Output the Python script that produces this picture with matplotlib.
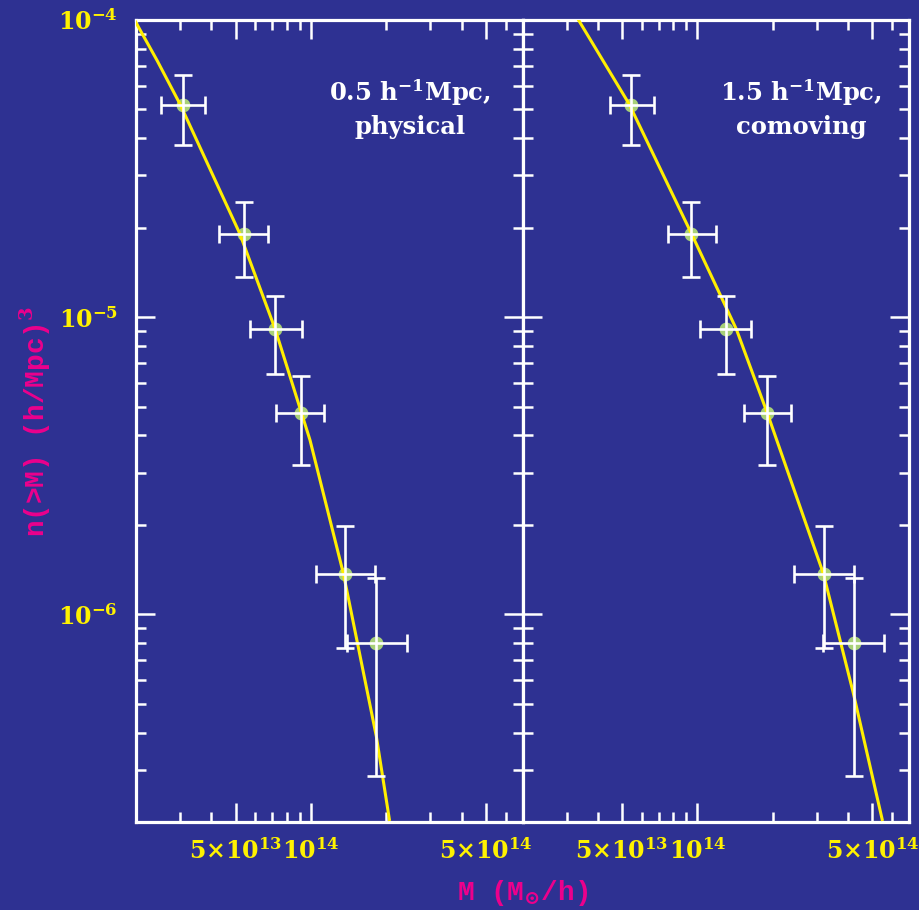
import matplotlib
matplotlib.use("Agg")
import matplotlib.pyplot as plt
from matplotlib.ticker import FixedLocator, FixedFormatter, NullFormatter

# ---------------- data ----------------
n_obs = [5.19e-5, 1.91e-5, 9.13e-6, 4.75e-6, 1.37e-6, 8.02e-7]
n_hi = [6.52e-5, 2.45e-5, 1.178e-5, 6.34e-6, 1.976e-6, 1.322e-6]
n_lo = [3.81e-5, 1.37e-5, 6.46e-6, 3.18e-6, 7.7e-7, 2.85e-7]

mass_phys = [3.07e13, 5.40e13, 7.19e13, 9.12e13, 1.373e14, 1.824e14]
mass_phys_lo = [2.51e13, 4.31e13, 5.69e13, 7.28e13, 1.044e14, 1.391e14]
mass_phys_hi = [3.79e13, 6.74e13, 9.18e13, 1.131e14, 1.807e14, 2.423e14]

mass_com = [5.45e13, 9.46e13, 1.296e14, 1.888e14, 3.21e14, 4.22e14]
mass_com_lo = [4.46e13, 7.60e13, 1.021e14, 1.530e14, 2.436e14, 3.185e14]
mass_com_hi = [6.72e13, 1.181e14, 1.643e14, 2.363e14, 4.205e14, 5.58e14]

fit_phys_m = [1.98e13, 2.43e13, 3.006e13, 5.19e13, 7.19e13, 9.91e13,
              1.348e14, 1.824e14, 2.057e14]
fit_phys_n = [9.95e-5, 7.30e-5, 5.19e-5, 1.915e-5, 9.13e-6, 3.86e-6,
              1.37e-6, 3.89e-7, 2.04e-7]

fit_com_m = [3.36e13, 5.33e13, 9.46e13, 1.430e14, 1.902e14, 3.185e14, 4.19e14,
             5.47e14]
fit_com_n = [9.95e-5, 5.22e-5, 1.911e-5, 9.11e-6, 4.75e-6, 1.37e-6, 5.45e-7,
             2.04e-7]

x_major = [5e13, 1e14, 5e14]
x_major_labels = [r'$5{\times}10^{13}$', r'$10^{14}$', r'$5{\times}10^{14}$']
y_major = [1e-6, 1e-5, 1e-4]
y_major_labels = [r'$10^{-6}$', r'$10^{-5}$', r'$10^{-4}$']
panel_titles = [(r'0.5 h$^{-1}$Mpc,', 'physical'),
                (r'1.5 h$^{-1}$Mpc,', 'comoving')]

# ---------------- style ----------------
BG = '#2e3192'
YEL = '#fff200'
LINE = '#ffee00'
MAG = '#ec008c'
GRN = '#a8d078'

plt.rcParams['mathtext.fontset'] = 'custom'
plt.rcParams['mathtext.rm'] = 'DejaVu Serif:bold'
plt.rcParams['mathtext.it'] = 'DejaVu Serif:bold'
plt.rcParams['mathtext.bf'] = 'DejaVu Serif:bold'

fig = plt.figure(figsize=(9.19, 9.10), dpi=100, facecolor=BG)
W, H = 919, 910
def rect(x0, y0, x1, y1):
    return [x0 / W, 1 - y1 / H, (x1 - x0) / W, (y1 - y0) / H]

ax1 = fig.add_axes(rect(136, 20, 522.5, 822))
ax2 = fig.add_axes(rect(522.5, 20, 909, 822))

panels = [
    (ax1, mass_phys, mass_phys_lo, mass_phys_hi, fit_phys_m, fit_phys_n, 0.709),
    (ax2, mass_com, mass_com_lo, mass_com_hi, fit_com_m, fit_com_n, 0.7206),
]

for i, (ax, m, mlo, mhi, fm, fn, tx) in enumerate(panels):
    ax.set_facecolor(BG)
    ax.set_xscale('log')
    ax.set_yscale('log')
    ax.set_xlim(2e13, 7e14)
    ax.set_ylim(2e-7, 1e-4)

    ax.plot(m, n_obs, 'o', color=GRN, markersize=10, markeredgewidth=0, zorder=2)
    ax.plot(fm, fn, '-', color=LINE, linewidth=2.2, zorder=3,
            solid_joinstyle='round')
    xerr = [[a - b for a, b in zip(m, mlo)], [b - a for a, b in zip(m, mhi)]]
    yerr = [[a - b for a, b in zip(n_obs, n_lo)], [b - a for a, b in zip(n_obs, n_hi)]]
    ax.errorbar(m, n_obs, xerr=xerr, yerr=yerr, fmt='none', ecolor='white',
                elinewidth=1.9, capsize=6.5, capthick=1.9, zorder=4)

    for s in ax.spines.values():
        s.set_color('white')
        s.set_linewidth(2.3)

    ax.xaxis.set_major_locator(FixedLocator(x_major))
    ax.xaxis.set_major_formatter(FixedFormatter(x_major_labels))
    ax.xaxis.set_minor_formatter(NullFormatter())
    ax.yaxis.set_major_locator(FixedLocator(y_major))
    ax.yaxis.set_minor_formatter(NullFormatter())
    if i == 0:
        ax.yaxis.set_major_formatter(FixedFormatter(y_major_labels))
    else:
        ax.yaxis.set_major_formatter(NullFormatter())

    ax.tick_params(which='both', direction='in', top=True, right=True,
                   color='white', width=1.8, labelcolor=YEL, labelsize=17)
    ax.tick_params(which='major', length=13.5)
    ax.tick_params(which='minor', length=7)
    ax.tick_params(axis='x', which='major', pad=12)
    ax.tick_params(axis='y', which='major', pad=13)

    l1, l2 = panel_titles[i]
    ax.text(tx, 0.910, l1, transform=ax.transAxes, ha='center', va='center',
            color='white', fontsize=17.5, fontfamily='DejaVu Serif',
            fontweight='bold')
    ax.text(tx, 0.866, l2, transform=ax.transAxes, ha='center', va='center',
            color='white', fontsize=17.5, fontfamily='DejaVu Serif',
            fontweight='bold')

fig.text(35 / W, 1 - 421 / H, r'n(>M) (h/Mpc)$^3$', rotation=90, ha='center',
         va='center', color=MAG, fontsize=20, fontfamily='Liberation Mono',
         fontweight='bold')
fig.text(522.5 / W, 1 - 893 / H, r'M (M$_{\odot}$/h)', ha='center', va='center',
         color=MAG, fontsize=20, fontfamily='Liberation Mono', fontweight='bold')

fig.savefig('out.png', dpi=100, facecolor=BG)
